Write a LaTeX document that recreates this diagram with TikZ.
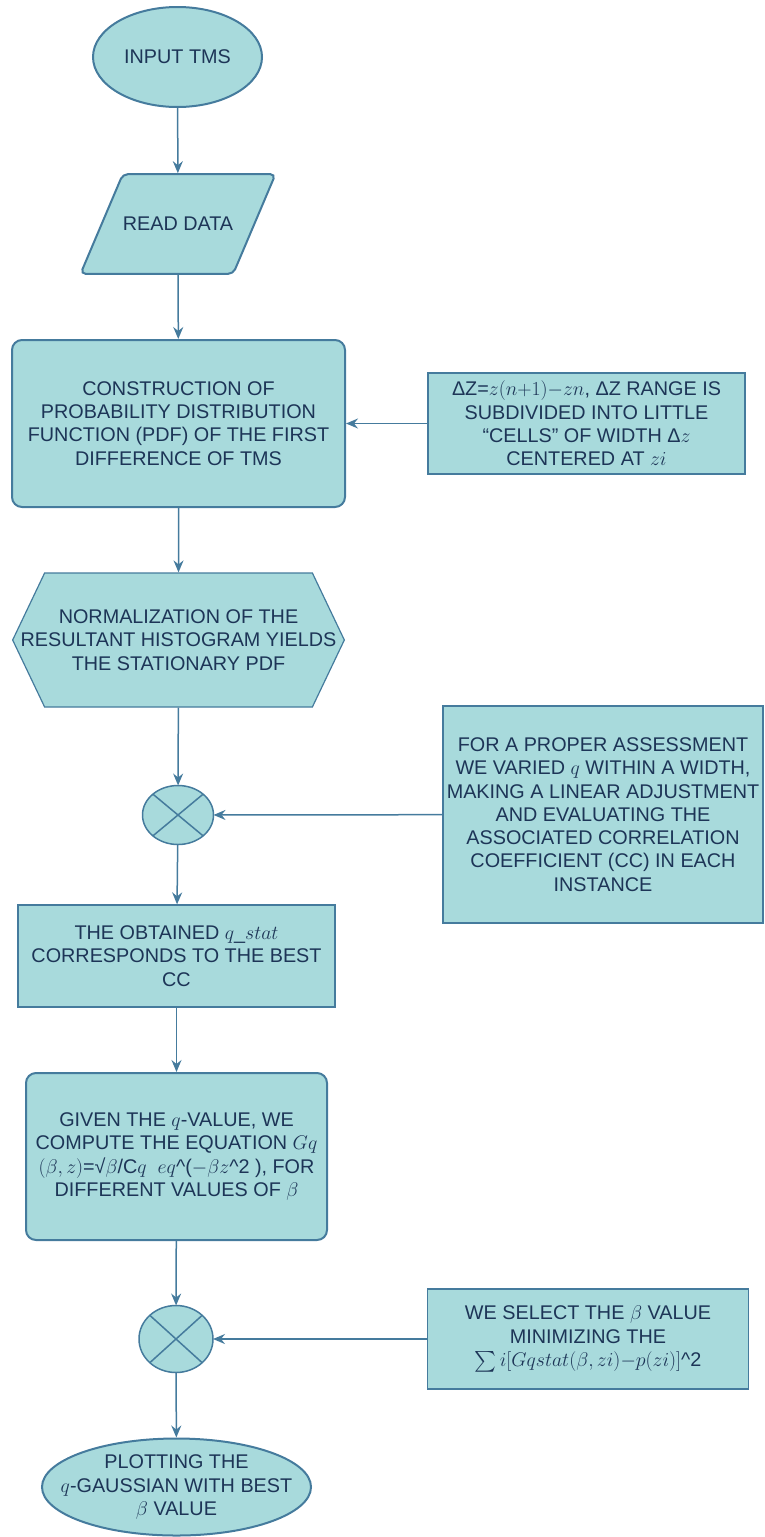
\RequirePackage{fix-cm}
\documentclass[tikz,border=0pt]{standalone}
\usepackage{fontspec}
\setmainfont{Liberation Sans}
\usepackage{amsmath}
\usepackage{xcolor}
\usepackage{tikz}
\usetikzlibrary{shapes.geometric, shapes.symbols, arrows.meta}

\definecolor{boxfill}{HTML}{A8DADC}
\definecolor{boxline}{HTML}{457B9D}
\definecolor{boxtext}{HTML}{1D3557}

\begin{document}
\begin{tikzpicture}[x=1pt, y=-1pt,
        base/.style={fill=boxfill, draw=boxline, text=boxtext, align=center, inner sep=0pt,
            font=\fontsize{19.8}{23.3}\selectfont},
        terminal/.style={base, ellipse, line width=2pt},
        inout/.style={base, trapezium, trapezium left angle=67, trapezium right angle=113,
            inner xsep=0pt, inner ysep=43pt, rounded corners=5pt, line width=2pt},
        process/.style={base, rectangle, rounded corners=10pt, line width=2pt},
        prep/.style={base, signal, signal to=west and east, signal pointer angle=129,
            inner xsep=-24pt, line width=1.2pt},
        note/.style={base, rectangle, line width=1.3pt},
        junction/.style={base, ellipse, line width=1.5pt, outer sep=0pt},
        flow/.style={draw=boxline, line width=1.5pt, -{Stealth[length=12pt, width=10pt, inset=4pt]}}]
            \useasboundingbox (0,0) rectangle (764,1537);

            % Nodes
            \node (input) [terminal, minimum width=169pt, minimum height=100pt] at (177.5,57) {INPUT TMS};
            \node (read) [inout] at (178,224) {READ DATA};
            \node (pdf) [process, minimum width=333pt, minimum height=167pt] at (178.5,423.5)
                {CONSTRUCTION OF\\PROBABILITY DISTRIBUTION\\FUNCTION (PDF) OF THE FIRST\\DIFFERENCE OF TMS};
            \node (cells) [note, minimum width=317pt, minimum height=101pt] at (586.5,423.5)
                {ΔZ=$z(n{+}1){-}zn$, ΔZ RANGE IS\\SUBDIVIDED INTO LITTLE\\“CELLS” OF WIDTH Δ$z$\\CENTERED AT $zi$};
            \node (norm) [prep, minimum height=134pt] at (178.5,640)
                {NORMALIZATION OF THE\\RESULTANT HISTOGRAM YIELDS\\THE STATIONARY PDF};
            \node (join1) [junction, minimum width=71pt, minimum height=59pt] at (178,815) {};
            \node (assess) [note, minimum width=320pt, minimum height=217pt] at (603,814.5)
                {FOR A PROPER ASSESSMENT\\WE VARIED $q$ WITHIN A WIDTH,\\MAKING A LINEAR ADJUSTMENT\\AND EVALUATING THE\\ASSOCIATED CORRELATION\\COEFFICIENT (CC) IN EACH\\INSTANCE};
            \node (qstat) [note, minimum width=317pt, minimum height=102pt] at (176.5,956)
                {THE OBTAINED $q$\_$stat$\\CORRESPONDS TO THE BEST\\CC};
            \node (gauss) [process, minimum width=301pt, minimum height=167pt] at (176.5,1156.5)
                {GIVEN THE $q$-VALUE, WE\\COMPUTE THE EQUATION $Gq$\\$(\beta,z)$=√$\beta$/C$q$~~$eq$\textasciicircum($-\beta z$\textasciicircum 2 ), FOR\\DIFFERENT VALUES OF $\beta$};
            \node (join2) [junction, minimum width=74pt, minimum height=67pt] at (176,1339) {};
            \node (select) [note, minimum width=321pt, minimum height=100pt] at (588,1339)
                {WE SELECT THE $\beta$ VALUE\\MINIMIZING THE\\$\textstyle\sum i[Gqstat(\beta,zi){-}p(zi)]$\textasciicircum 2};
            \node (plot) [terminal, inner xsep=-22pt, minimum width=269pt, minimum height=97pt] at (176.5,1487)
                {PLOTTING THE\\$q$-GAUSSIAN WITH BEST\\$\beta$ VALUE};
            % Crosses in the junctions
            \draw [boxline, line width=1.5pt] (join1.north west) -- (join1.south east) (join1.north east) -- (join1.south west);
            \draw [boxline, line width=1.5pt] (join2.north west) -- (join2.south east) (join2.north east) -- (join2.south west);
            % Main flow
            \draw [flow] (input) -- (read);
            \draw [flow] (read) -- (pdf);
            \draw [flow] (pdf) -- (norm);
            \draw [flow] (norm) -- (join1);
            \draw [flow] (join1) -- (qstat);
            \draw [flow] (qstat) -- (gauss);
            \draw [flow] (gauss) -- (join2);
            \draw [flow] (join2) -- (plot);
            % Side inputs
            \draw [flow] (cells) -- (pdf);
            \draw [flow] (assess) -- (join1);
            \draw [flow] (select) -- (join2);
        \end{tikzpicture}
\end{document}
